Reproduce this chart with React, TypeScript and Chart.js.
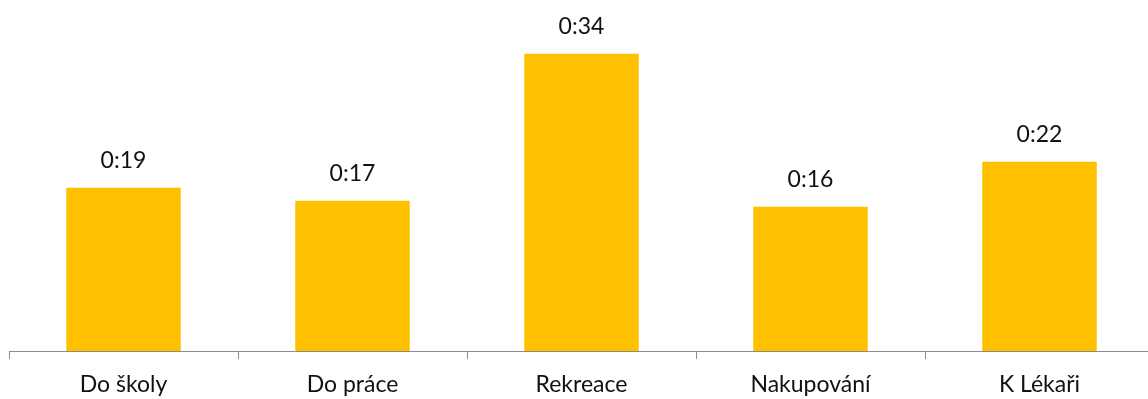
import React, { useEffect, useRef } from "react";
import { Chart, registerables } from "chart.js";

Chart.register(...registerables);

const categories: string[] = ["Do školy", "Do práce", "Rekreace", "Nakupování", "K Lékaři"];
const minutes: number[] = [18.66, 17.17, 34, 16.49, 21.64];
const valueLabels: string[] = ["0:19", "0:17", "0:34", "0:16", "0:22"];

const FONT = "Lato, 'Open Sans', sans-serif";

const valueLabelPlugin = {
  id: "valueLabels",
  afterDatasetsDraw(chart: any) {
    const ctx = chart.ctx;
    const meta = chart.getDatasetMeta(0);
    ctx.save();
    ctx.font = `23px ${FONT}`;
    ctx.fillStyle = "#111111";
    ctx.textAlign = "center";
    ctx.textBaseline = "alphabetic";
    meta.data.forEach((bar: any, i: number) => {
      ctx.fillText(valueLabels[i], bar.x, bar.y - 20);
    });
    ctx.restore();
  },
};

export default function App() {
  const ref = useRef<HTMLCanvasElement>(null);
  useEffect(() => {
    if (!ref.current) return;
    const chart = new Chart(ref.current, {
      type: "bar",
      data: {
        labels: categories,
        datasets: [
          {
            data: minutes,
            backgroundColor: "#FFC000",
            borderWidth: 0,
            categoryPercentage: 1,
            barPercentage: 0.5,
          },
        ],
      },
      options: {
        animation: false,
        responsive: false,
        maintainAspectRatio: false,
        layout: { padding: { left: 9, right: 6, top: 10, bottom: 0 } },
        plugins: { legend: { display: false }, tooltip: { enabled: false } },
        scales: {
          x: {
            offset: true,
            border: { display: true, color: "#8c8c8c", width: 1 },
            grid: {
              offset: true,
              drawOnChartArea: false,
              drawTicks: true,
              tickLength: 8,
              color: "#8c8c8c",
            },
            ticks: {
              color: "#111111",
              padding: 14,
              font: { family: FONT, size: 23, lineHeight: 1 },
              maxRotation: 0,
            },
            afterFit: (scale: any) => {
              scale.height = 48;
            },
          },
          y: {
            display: false,
            min: 0,
            max: 39,
          },
        },
      },
      plugins: [valueLabelPlugin],
    });
    return () => chart.destroy();
  }, []);
  return (
    <div style={{ position: "absolute", left: 0, top: 0, width: 1148, height: 399, overflow: "hidden", background: "#fff" }}>
      <canvas ref={ref} width={1160} height={399} style={{ display: "block", width: 1160, height: 399 }} />
    </div>
  );
}
